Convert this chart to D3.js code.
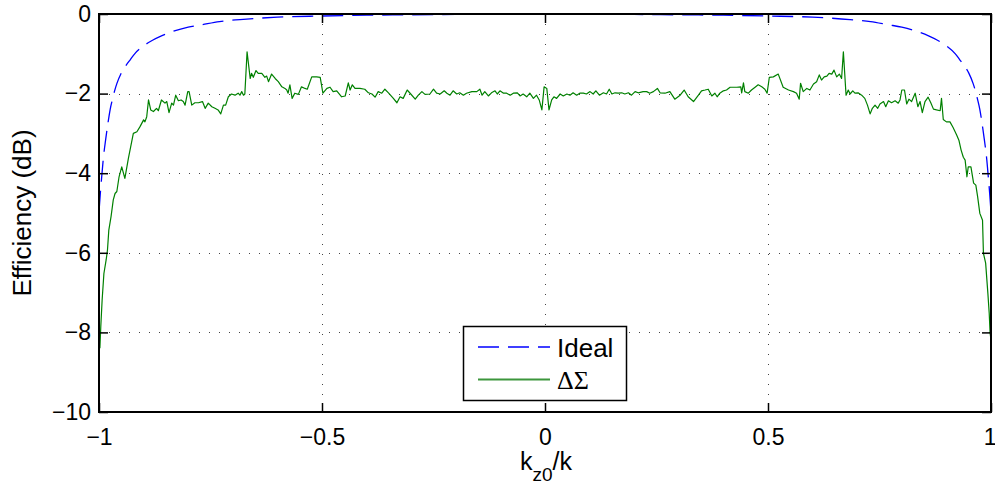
<!DOCTYPE html>
<html><head><meta charset="utf-8">
<script src="https://cdn.jsdelivr.net/npm/d3@7"></script>
<style>
body{margin:0;background:#fff}
</style>
</head><body><svg id="c" width="995" height="485" font-family="'Liberation Sans', Arial, Helvetica, sans-serif"></svg>
<script>
// ---------- data ----------
const xTicks = [-1, -0.5, 0, 0.5, 1];
const xTickLabels = ["\u22121", "\u22120.5", "0", "0.5", "1"];
const yTicks = [-10, -8, -6, -4, -2, 0];
const yTickLabels = ["\u221210", "\u22128", "\u22126", "\u22124", "\u22122", "0"];
const gridX = [-0.5, 0, 0.5];
const gridY = [-8, -6, -4, -2];
const seriesNames = ["Ideal", "\u0394\u03a3"];

// Ideal efficiency [kz0/k, dB]
const idealSeries = [
 [-1.000,-4.97],[-0.997,-4.50],[-0.994,-4.10],[-0.990,-3.60],[-0.985,-3.15],[-0.980,-2.75],
 [-0.975,-2.40],[-0.970,-2.15],[-0.965,-1.93],[-0.960,-1.75],[-0.950,-1.48],[-0.940,-1.30],
 [-0.930,-1.15],[-0.920,-1.00],[-0.900,-0.80],[-0.880,-0.66],[-0.860,-0.55],[-0.840,-0.46],
 [-0.800,-0.33],[-0.770,-0.27],[-0.730,-0.19],[-0.684,-0.14],[-0.600,-0.08],[-0.500,-0.05],
 [-0.400,-0.03],[-0.300,-0.02],[-0.200,-0.01],[-0.100,0.00],[0,0.00],
 [0.100,0.00],[0.200,-0.01],[0.300,-0.02],[0.400,-0.03],[0.500,-0.05],[0.600,-0.08],
 [0.684,-0.14],[0.730,-0.19],[0.770,-0.27],[0.800,-0.33],[0.840,-0.46],[0.860,-0.55],
 [0.880,-0.66],[0.900,-0.80],[0.920,-1.00],[0.930,-1.15],[0.940,-1.30],[0.950,-1.48],
 [0.960,-1.75],[0.965,-1.93],[0.970,-2.15],[0.975,-2.40],[0.980,-2.75],[0.985,-3.15],
 [0.990,-3.60],[0.994,-4.10],[0.997,-4.50],[1.000,-4.97]
];

// Delta-Sigma efficiency [kz0/k, dB]
const deltaSigmaSeries = [
 [-0.998,-8.40],[-0.996,-7.86],[-0.993,-7.19],[-0.989,-6.52],[-0.984,-6.18],[-0.981,-5.93],
 [-0.978,-5.43],[-0.973,-5.09],[-0.968,-4.67],[-0.964,-4.51],[-0.960,-4.46],[-0.955,-4.09],
 [-0.949,-3.84],[-0.942,-4.13],[-0.934,-3.62],[-0.926,-3.17],[-0.923,-3.00],[-0.915,-2.96],
 [-0.908,-2.83],[-0.900,-2.66],[-0.897,-2.71],[-0.893,-2.58],[-0.889,-2.16],[-0.884,-2.41],
 [-0.878,-2.45],[-0.871,-2.37],[-0.867,-2.43],[-0.860,-2.16],[-0.852,-2.24],[-0.848,-2.20],
 [-0.843,-2.48],[-0.837,-2.24],[-0.833,-2.29],[-0.828,-2.04],[-0.822,-2.18],[-0.816,-2.16],
 [-0.811,-2.20],[-0.807,-2.29],[-0.801,-1.95],[-0.798,-1.95],[-0.792,-2.29],[-0.785,-2.23],
 [-0.777,-2.23],[-0.768,-2.20],[-0.762,-2.37],[-0.755,-2.24],[-0.747,-2.33],[-0.740,-2.37],
 [-0.733,-2.41],[-0.727,-2.51],[-0.721,-2.29],[-0.716,-2.29],[-0.710,-2.08],[-0.703,-2.01],
 [-0.695,-2.04],[-0.688,-1.99],[-0.684,-2.04],[-0.680,-1.95],[-0.676,-2.04],[-0.673,-2.01],
 [-0.668,-0.95],[-0.661,-1.62],[-0.658,-1.49],[-0.654,-1.59],[-0.648,-1.42],[-0.643,-1.49],
 [-0.635,-1.49],[-0.628,-1.59],[-0.624,-1.56],[-0.620,-1.70],[-0.613,-1.51],[-0.605,-1.62],
 [-0.598,-1.70],[-0.590,-1.83],[-0.583,-1.87],[-0.579,-1.91],[-0.576,-1.99],[-0.572,-1.78],
 [-0.567,-2.12],[-0.561,-1.99],[-0.553,-2.02],[-0.546,-1.83],[-0.538,-1.87],[-0.533,-1.89],
 [-0.523,-1.58],[-0.512,-1.58],[-0.504,-1.59],[-0.498,-1.99],[-0.489,-1.87],[-0.482,-1.84],
 [-0.475,-1.95],[-0.467,-1.93],[-0.456,-2.08],[-0.448,-2.06],[-0.441,-1.73],[-0.437,-1.91],
 [-0.432,-1.78],[-0.426,-1.87],[-0.415,-1.87],[-0.404,-1.89],[-0.396,-1.98],[-0.388,-2.01],
 [-0.381,-2.09],[-0.374,-1.95],[-0.366,-1.99],[-0.359,-1.89],[-0.351,-1.98],[-0.340,-2.12],
 [-0.332,-2.23],[-0.325,-2.08],[-0.318,-2.12],[-0.309,-1.91],[-0.301,-2.01],[-0.291,-2.14],
 [-0.284,-2.04],[-0.276,-1.95],[-0.269,-2.02],[-0.258,-2.01],[-0.250,-1.89],[-0.243,-1.99],
 [-0.235,-2.01],[-0.226,-1.93],[-0.220,-1.99],[-0.213,-2.04],[-0.206,-1.93],[-0.198,-2.01],
 [-0.191,-1.98],[-0.183,-2.04],[-0.176,-1.99],[-0.164,-1.95],[-0.153,-1.95],[-0.146,-1.89],
 [-0.141,-2.04],[-0.135,-1.95],[-0.127,-2.06],[-0.120,-1.98],[-0.112,-1.93],[-0.107,-2.01],
 [-0.101,-1.93],[-0.093,-1.99],[-0.086,-1.99],[-0.078,-2.04],[-0.071,-1.99],[-0.062,-1.98],
 [-0.056,-2.06],[-0.049,-2.01],[-0.041,-2.08],[-0.034,-1.99],[-0.026,-2.12],[-0.019,-2.04],
 [-0.013,-2.16],[-0.007,-2.41],[-0.002,-1.83],[0.004,-1.87],[0.009,-2.41],[0.015,-2.16],
 [0.020,-2.08],[0.026,-2.12],[0.034,-2.01],[0.041,-2.06],[0.049,-2.01],[0.056,-2.04],
 [0.063,-1.98],[0.071,-2.04],[0.078,-1.99],[0.086,-1.99],[0.093,-2.01],[0.101,-1.95],
 [0.108,-2.01],[0.114,-1.93],[0.122,-2.04],[0.131,-1.98],[0.138,-2.01],[0.144,-1.89],
 [0.150,-2.01],[0.157,-1.98],[0.164,-1.99],[0.172,-1.98],[0.179,-2.01],[0.187,-1.98],
 [0.194,-2.04],[0.202,-1.95],[0.209,-1.98],[0.220,-1.95],[0.228,-1.95],[0.235,-1.99],
 [0.243,-1.95],[0.252,-1.87],[0.258,-1.98],[0.269,-1.99],[0.280,-1.95],[0.291,-2.14],
 [0.303,-2.04],[0.312,-1.91],[0.321,-2.08],[0.333,-2.20],[0.344,-2.04],[0.351,-1.93],
 [0.359,-1.91],[0.366,-1.89],[0.374,-2.06],[0.381,-1.99],[0.386,-2.08],[0.392,-1.99],
 [0.400,-1.93],[0.407,-1.91],[0.415,-1.84],[0.422,-1.84],[0.430,-1.84],[0.439,-1.83],
 [0.441,-1.98],[0.445,-1.73],[0.448,-1.95],[0.456,-1.99],[0.463,-1.91],[0.471,-1.84],
 [0.478,-1.78],[0.486,-1.83],[0.493,-1.89],[0.498,-1.99],[0.503,-1.59],[0.512,-1.58],
 [0.523,-1.51],[0.534,-1.84],[0.546,-1.91],[0.557,-1.95],[0.564,-1.99],[0.570,-2.14],
 [0.573,-1.74],[0.579,-1.95],[0.587,-1.87],[0.594,-1.91],[0.602,-1.76],[0.609,-1.70],
 [0.615,-1.53],[0.620,-1.66],[0.626,-1.58],[0.632,-1.56],[0.637,-1.49],[0.643,-1.51],
 [0.648,-1.41],[0.654,-1.58],[0.660,-1.51],[0.665,-1.62],[0.669,-0.95],[0.675,-2.04],
 [0.680,-1.91],[0.684,-2.01],[0.690,-1.93],[0.695,-1.99],[0.702,-1.98],[0.710,-2.04],
 [0.717,-2.12],[0.723,-2.29],[0.729,-2.51],[0.734,-2.37],[0.740,-2.29],[0.746,-2.37],
 [0.751,-2.26],[0.759,-2.20],[0.764,-2.33],[0.770,-2.18],[0.777,-2.23],[0.785,-2.18],
 [0.792,-2.24],[0.796,-2.16],[0.800,-1.91],[0.806,-1.91],[0.811,-2.26],[0.816,-2.14],
 [0.822,-2.20],[0.830,-1.99],[0.836,-2.33],[0.841,-2.20],[0.846,-2.48],[0.852,-2.20],
 [0.859,-2.09],[0.865,-2.23],[0.871,-2.39],[0.878,-2.41],[0.886,-2.43],[0.889,-2.12],
 [0.893,-2.65],[0.900,-2.71],[0.908,-2.71],[0.915,-2.85],[0.923,-3.04],[0.928,-3.17],
 [0.933,-3.42],[0.938,-3.60],[0.942,-3.67],[0.946,-4.09],[0.949,-3.84],[0.955,-3.84],
 [0.961,-4.25],[0.966,-4.30],[0.970,-4.59],[0.975,-5.01],[0.981,-5.18],[0.983,-6.01],
 [0.988,-6.26],[0.993,-7.02],[0.996,-7.52],[0.998,-8.02],[1.000,-8.19]
];

// ---------- chart ----------
const W = 995, H = 485;
const m = {l: 99, r: 4, t: 14, b: 73};
const svg = d3.select("#c");
const x = d3.scaleLinear().domain([-1, 1]).range([m.l, W - m.r]);
const y = d3.scaleLinear().domain([-10, 0]).range([H - m.b, m.t]);
const FS = 23, LFS = 26, TICK = 9;
const SANS = "'Liberation Sans', Arial, Helvetica, sans-serif";
const SERIF = "'Liberation Serif', 'Times New Roman', serif";

svg.append("rect").attr("width", W).attr("height", H).attr("fill", "#fff");

// grid
const grid = svg.append("g").attr("stroke", "#444").attr("stroke-width", 1)
  .attr("stroke-dasharray", "1,9");
grid.selectAll(".gx").data(gridX).join("line")
  .attr("x1", d => Math.round(x(d)) + 0.5).attr("x2", d => Math.round(x(d)) + 0.5)
  .attr("y1", y(0)).attr("y2", y(-10));
grid.selectAll(".gy").data(gridY).join("line")
  .attr("y1", d => Math.round(y(d)) + 0.5).attr("y2", d => Math.round(y(d)) + 0.5)
  .attr("x1", x(-1)).attr("x2", x(1));

// clip
svg.append("clipPath").attr("id", "pc").append("rect")
  .attr("x", x(-1)).attr("y", y(0) - 2).attr("width", x(1) - x(-1)).attr("height", y(-10) - y(0) + 2);

const line = d3.line().x(d => x(d[0])).y(d => y(d[1]));
const plot = svg.append("g").attr("clip-path", "url(#pc)");
plot.append("path").datum(deltaSigmaSeries).attr("d", line)
  .attr("fill", "none").attr("stroke", "#008000").attr("stroke-width", 1.2).attr("stroke-linejoin", "round");
plot.append("path").datum(idealSeries).attr("d", d3.line().curve(d3.curveMonotoneX).x(d => x(d[0])).y(d => y(d[1])))
  .attr("fill", "none").attr("stroke", "#0000ff").attr("stroke-width", 1.3).attr("stroke-dasharray", "21,9");

// axes
function styleAxis(g) {
  g.select(".domain").remove();
  g.selectAll(".tick line").attr("stroke", "#000").attr("stroke-width", 1.5);
  g.selectAll(".tick text").attr("fill", "#000").attr("font-size", FS).attr("font-family", SANS);
}
const xAxisG = svg.append("g").attr("transform", `translate(0,${y(-10)})`)
  .call(d3.axisBottom(x).tickValues(xTicks).tickSize(-TICK).tickPadding(TICK + 8)
    .tickFormat((d, i) => xTickLabels[i])).call(styleAxis);
// keep the right-most label inside the canvas
xAxisG.selectAll(".tick text").filter(d => d === 1).attr("text-anchor", "end").attr("dx", 5);
svg.append("g").attr("transform", `translate(0,${y(0)})`)
  .call(d3.axisTop(x).tickValues(xTicks).tickSize(-TICK).tickFormat(""))
  .call(styleAxis);
svg.append("g").attr("transform", `translate(${x(-1)},0)`)
  .call(d3.axisLeft(y).tickValues(yTicks).tickSize(-TICK).tickPadding(8)
    .tickFormat((d, i) => yTickLabels[i])).call(styleAxis);
svg.append("g").attr("transform", `translate(${x(1)},0)`)
  .call(d3.axisRight(y).tickValues(yTicks).tickSize(-TICK).tickFormat(""))
  .call(styleAxis);

svg.append("rect").attr("x", x(-1)).attr("y", y(0)).attr("width", x(1) - x(-1)).attr("height", y(-10) - y(0))
  .attr("fill", "none").attr("stroke", "#000").attr("stroke-width", 2);

// axis labels
svg.append("text").attr("transform", `translate(31,${(y(0) + y(-10)) / 2}) rotate(-90)`)
  .attr("text-anchor", "middle").attr("font-size", LFS).attr("font-family", SANS).text("Efficiency (dB)");
const xl = svg.append("text").attr("x", (x(-1) + x(1)) / 2 + 1).attr("y", 470)
  .attr("text-anchor", "middle").attr("font-size", 25).attr("font-family", SANS);
xl.append("tspan").text("k");
xl.append("tspan").attr("font-size", 19).attr("dy", 11).text("z0");
xl.append("tspan").attr("dy", -11).text("/k");

// legend
const lg = svg.append("g");
lg.append("rect").attr("x", 463.5).attr("y", 326.5).attr("width", 163).attr("height", 74)
  .attr("fill", "#fff").attr("stroke", "#000").attr("stroke-width", 1.5);
const items = [{name: seriesNames[0], color: "#0000ff", dash: "21,9", font: SANS, w: 1.3},
               {name: seriesNames[1], color: "#3c963c", dash: null, font: SERIF, w: 2}];
items.forEach((it, i) => {
  const yy = 347 + i * 32.5;
  lg.append("line").attr("x1", 478).attr("x2", 550).attr("y1", yy).attr("y2", yy)
    .attr("stroke", it.color).attr("stroke-width", it.w).attr("stroke-dasharray", it.dash);
  lg.append("text").attr("x", 557).attr("y", yy + 9.5).attr("font-size", LFS)
    .attr("font-family", it.font).text(it.name);
});
</script></body></html>
